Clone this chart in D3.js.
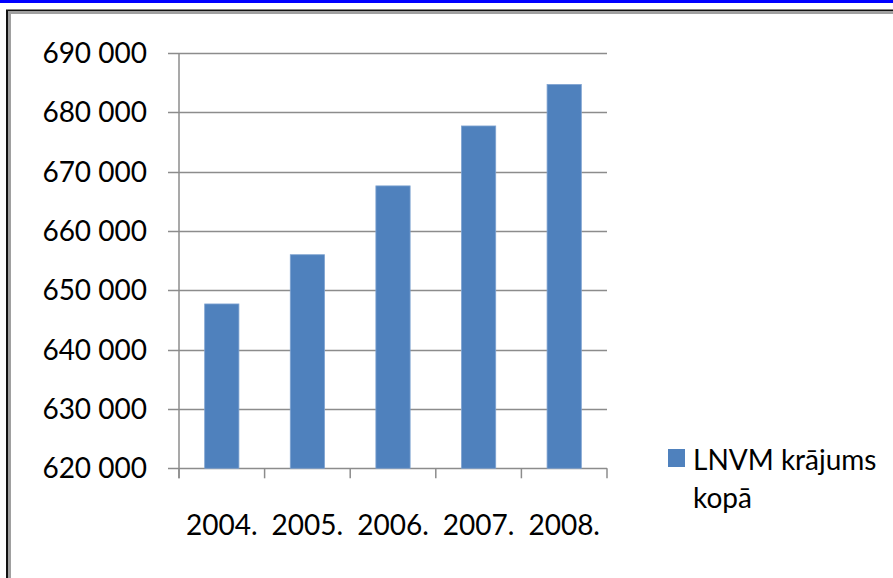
<!DOCTYPE html>
<html>
<head>
<meta charset="utf-8">
<script src="https://cdn.jsdelivr.net/npm/d3@7"></script>
<style>
  body { margin: 0; background: #fff; }
  text { font-family: Lato, "Open Sans", sans-serif; fill: #000; }
</style>
</head>
<body>
<div id="chart"></div>
<script>
const width = 893;
const height = 578;

// data
const years = ["2004.", "2005.", "2006.", "2007.", "2008."];
const stock = [647700, 656000, 667600, 677700, 684700];
const yTicks = [620000, 630000, 640000, 650000, 660000, 670000, 680000, 690000];
const seriesName = ["LNVM krājums", "kopā"];

const svg = d3.select("#chart")
    .append("svg")
    .attr("width", width)
    .attr("height", height);

// blue strip of the page above the frame
svg.append("rect")
    .attr("x", 0).attr("y", 0)
    .attr("width", width).attr("height", 3)
    .attr("fill", "#0000ff");

// frame border (cut at right and bottom)
svg.append("path")
    .attr("d", `M7,${height} V10.5 H${width}`)
    .attr("fill", "none").attr("stroke", "#111").attr("stroke-width", 2);
svg.append("path")
    .attr("d", `M9.5,${height} V12.5 H${width}`)
    .attr("fill", "none").attr("stroke", "#a0a0a0").attr("stroke-width", 3);

const x = d3.scaleBand()
    .domain(years)
    .range([179, 607])
    .paddingInner(0.6)
    .paddingOuter(0.3);

const y = d3.scaleLinear()
    .domain([620000, 690000])
    .range([468.3, 53]);

const fmt = v => d3.format(",")(v).replace(/,/g, " ");
const gridColor = "#8c8c8c";

// horizontal gridlines with left ticks
svg.append("g")
    .selectAll("line")
    .data(yTicks)
    .enter()
    .append("line")
    .attr("x1", 168)
    .attr("x2", 607)
    .attr("y1", d => Math.round(y(d)) + 0.5)
    .attr("y2", d => Math.round(y(d)) + 0.5)
    .attr("stroke", gridColor)
    .attr("stroke-width", 1.5);

// y axis line
svg.append("line")
    .attr("x1", 179).attr("x2", 179)
    .attr("y1", y(690000)).attr("y2", y(620000) + 10)
    .attr("stroke", gridColor).attr("stroke-width", 1.5);

// x ticks at band edges
const edges = years.map(d => x(d) - x.step() * x.paddingInner() / 2).concat([607]);
edges[0] = 179;
svg.append("g")
    .selectAll("line")
    .data(edges)
    .enter()
    .append("line")
    .attr("x1", d => d).attr("x2", d => d)
    .attr("y1", y(620000)).attr("y2", y(620000) + 10)
    .attr("stroke", gridColor).attr("stroke-width", 1.5);

// y labels
svg.append("g")
    .selectAll("text")
    .data(yTicks)
    .enter()
    .append("text")
    .attr("x", 147)
    .attr("y", d => y(d))
    .attr("dy", "0.36em")
    .attr("text-anchor", "end")
    .attr("font-size", 28)
    .text(fmt);

// bars
svg.append("g")
    .selectAll("rect")
    .data(stock)
    .enter()
    .append("rect")
    .attr("x", (d, i) => x(years[i]))
    .attr("width", x.bandwidth())
    .attr("y", d => y(d))
    .attr("height", d => y(620000) - y(d))
    .attr("fill", "#4f81bd")
    .attr("stroke", "#7fa3d1")
    .attr("stroke-width", 0.8);

// x labels
svg.append("g")
    .selectAll("text")
    .data(years)
    .enter()
    .append("text")
    .attr("x", d => x(d) + x.bandwidth() / 2)
    .attr("y", 535)
    .attr("text-anchor", "middle")
    .attr("font-size", 28)
    .text(d => d);

// legend
svg.append("rect")
    .attr("x", 668).attr("y", 449)
    .attr("width", 17).attr("height", 18)
    .attr("fill", "#4f81bd");

svg.append("g")
    .selectAll("text")
    .data(seriesName)
    .enter()
    .append("text")
    .attr("x", 693)
    .attr("y", (d, i) => 470 + i * 38)
    .attr("font-size", 28)
    .text(d => d);
</script>
</body>
</html>
